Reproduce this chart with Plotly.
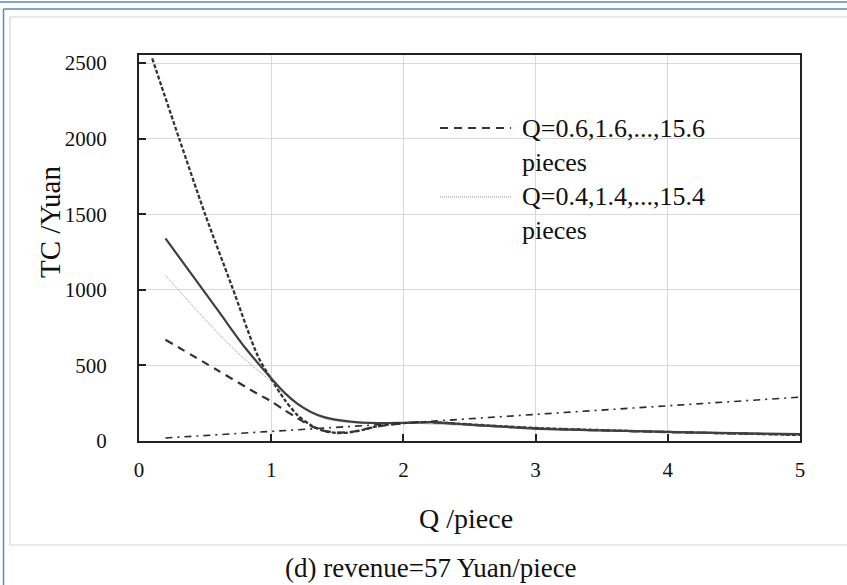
import plotly.graph_objects as go

# ---------------- data ----------------
Q_steep = [0.1, 0.3, 0.5, 0.7, 0.9, 1.0, 1.1, 1.2, 1.3, 1.4, 1.5, 1.6, 1.7, 1.8, 2.0, 2.2, 2.5, 3.0, 3.5, 4.0, 4.5, 5.0]
TC_steep = [2530, 2010, 1500, 1030, 560, 410, 275, 170, 105, 66, 53, 58, 75, 97, 118, 125, 110, 86, 72, 60, 50, 40]

Q_solid = [0.2, 0.6, 0.8, 1.0, 1.1, 1.2, 1.3, 1.4, 1.6, 1.8, 2.0, 2.2, 2.5, 3.0, 3.5, 4.0, 4.5, 5.0]
TC_solid = [1340, 860, 620, 415, 320, 245, 192, 158, 128, 118, 120, 124, 108, 82, 70, 60, 52, 45]

Q_dot = [0.2, 0.6, 0.8, 1.0, 1.2, 1.4, 1.6, 1.8, 2.0, 2.5, 3.0, 3.5, 4.0, 4.5, 5.0]
TC_dot = [1095, 710, 540, 395, 240, 150, 122, 115, 118, 102, 80, 68, 58, 50, 42]

Q_dash = [0.2, 0.6, 0.9, 1.0, 1.1, 1.2, 1.3, 1.4, 1.5, 1.6, 1.8, 2.0, 2.2, 2.5, 3.0, 3.5, 4.0, 4.5, 5.0]
TC_dash = [670, 465, 310, 262, 205, 150, 100, 68, 56, 60, 95, 118, 124, 108, 84, 70, 59, 50, 42]

Q_rev = [0.2, 1, 2, 3, 4, 5]
TC_rev = [20, 62, 118, 176, 233, 290]

x_ticks = [0, 1, 2, 3, 4, 5]
y_ticks = [0, 500, 1000, 1500, 2000, 2500]

legend_names = ["Q=0.6,1.6,...,15.6<br>pieces", "Q=0.4,1.4,...,15.4<br>pieces"]
x_title = "Q /piece"
y_title = "TC /Yuan"
caption = "(d) revenue=57 Yuan/piece"

FONT = "Liberation Serif"

fig = go.Figure()
fig.add_trace(go.Scatter(x=Q_steep, y=TC_steep, mode="lines", showlegend=False,
                         line=dict(color="#333333", width=2.3, dash="4px,2px", shape="spline", smoothing=0.8)))
fig.add_trace(go.Scatter(x=Q_dash, y=TC_dash, mode="lines", name=legend_names[0], showlegend=False,
                         line=dict(color="#333333", width=2.2, dash="8px,6px", shape="spline", smoothing=0.8)))
fig.add_trace(go.Scatter(x=Q_dot, y=TC_dot, mode="lines", name=legend_names[1], showlegend=False,
                         line=dict(color="#8c8c8c", width=1, dash="1px,1px", shape="spline", smoothing=0.8)))
fig.add_trace(go.Scatter(x=Q_solid, y=TC_solid, mode="lines", showlegend=False,
                         line=dict(color="#404040", width=2.2, shape="spline", smoothing=0.8)))
fig.add_trace(go.Scatter(x=Q_rev, y=TC_rev, mode="lines", showlegend=False,
                         line=dict(color="#2a2a2a", width=1.6, dash="7px,5px,2px,5px")))

# plot area in pixels: x 139..800, y 55..441
L, R, T, B = 139, 800, 55, 441
W, H = 847, 585
def px(xp):
    return (xp - L) / (R - L)
def py(yp):
    return (B - yp) / (B - T)

shapes = []
# page decorations
shapes.append(dict(type="line", xref="paper", yref="paper", x0=px(0), x1=px(W + 5), y0=py(2), y1=py(2),
                   line=dict(color="#5b87c5", width=1.5)))
shapes.append(dict(type="line", xref="paper", yref="paper", x0=px(3.5), x1=px(W + 5), y0=py(9), y1=py(9),
                   line=dict(color="#5b87c5", width=1.5)))
shapes.append(dict(type="line", xref="paper", yref="paper", x0=px(3.5), x1=px(3.5), y0=py(9), y1=py(W),
                   line=dict(color="#5b87c5", width=1.5)))
shapes.append(dict(type="rect", xref="paper", yref="paper", x0=px(10), x1=px(W + 10), y0=py(17), y1=py(545),
                   line=dict(color="#d4d4d4", width=1.2)))
# legend samples
shapes.append(dict(type="line", xref="paper", yref="paper", x0=px(440), x1=px(511), y0=py(128), y1=py(128),
                   line=dict(color="#333333", width=2, dash="8px,6px")))
shapes.append(dict(type="line", xref="paper", yref="paper", x0=px(440), x1=px(511), y0=py(197), y1=py(197),
                   line=dict(color="#8c8c8c", width=1, dash="1px,1px")))

annotations = [
    dict(text=legend_names[0], xref="paper", yref="paper", x=px(520), y=py(112), xanchor="left", yanchor="top",
         align="left", showarrow=False, font=dict(family=FONT, size=26, color="#111")),
    dict(text=legend_names[1], xref="paper", yref="paper", x=px(520), y=py(180), xanchor="left", yanchor="top",
         align="left", showarrow=False, font=dict(family=FONT, size=26, color="#111")),
    dict(text=x_title, xref="paper", yref="paper", x=px(466), y=py(518), xanchor="center", yanchor="middle",
         showarrow=False, font=dict(family=FONT, size=28, color="#111")),
    dict(text=y_title, xref="paper", yref="paper", x=px(50), y=py(222), xanchor="center", yanchor="middle",
         textangle=-90, showarrow=False, font=dict(family=FONT, size=29, color="#111")),
    dict(text=caption, xref="paper", yref="paper", x=px(431), y=py(568), xanchor="center", yanchor="middle",
         showarrow=False, font=dict(family=FONT, size=27, color="#111")),
]

fig.update_layout(
    width=W, height=H, autosize=False,
    margin=dict(l=L, r=W - R, t=T, b=H - B, pad=0),
    paper_bgcolor="white", plot_bgcolor="white",
    showlegend=False,
    shapes=shapes, annotations=annotations,
    font=dict(family=FONT, color="#111"),
)
fig.update_xaxes(range=[0, 5], tickvals=x_ticks, ticktext=[str(v) for v in x_ticks],
                 showgrid=True, gridcolor="#d9d9d9", gridwidth=1.2, zeroline=False,
                 showline=True, linecolor="#222", linewidth=2, mirror=True,
                 ticks="inside", ticklen=7, tickwidth=1.5, tickcolor="#222",
                 ticklabelstandoff=9, tickfont=dict(family=FONT, size=21, color="#111"))
fig.update_yaxes(range=[0, 2553], tickvals=y_ticks, ticktext=[str(v) for v in y_ticks],
                 showgrid=True, gridcolor="#d9d9d9", gridwidth=1.2, zeroline=False,
                 showline=True, linecolor="#222", linewidth=2, mirror=True,
                 ticks="inside", ticklen=7, tickwidth=1.5, tickcolor="#222",
                 ticklabelstandoff=26, tickfont=dict(family=FONT, size=21, color="#111"))

fig.write_html("out.html", config={"displayModeBar": False},
               post_script="document.body.style.margin='0';document.body.style.padding='0';document.body.style.overflow='hidden';")
